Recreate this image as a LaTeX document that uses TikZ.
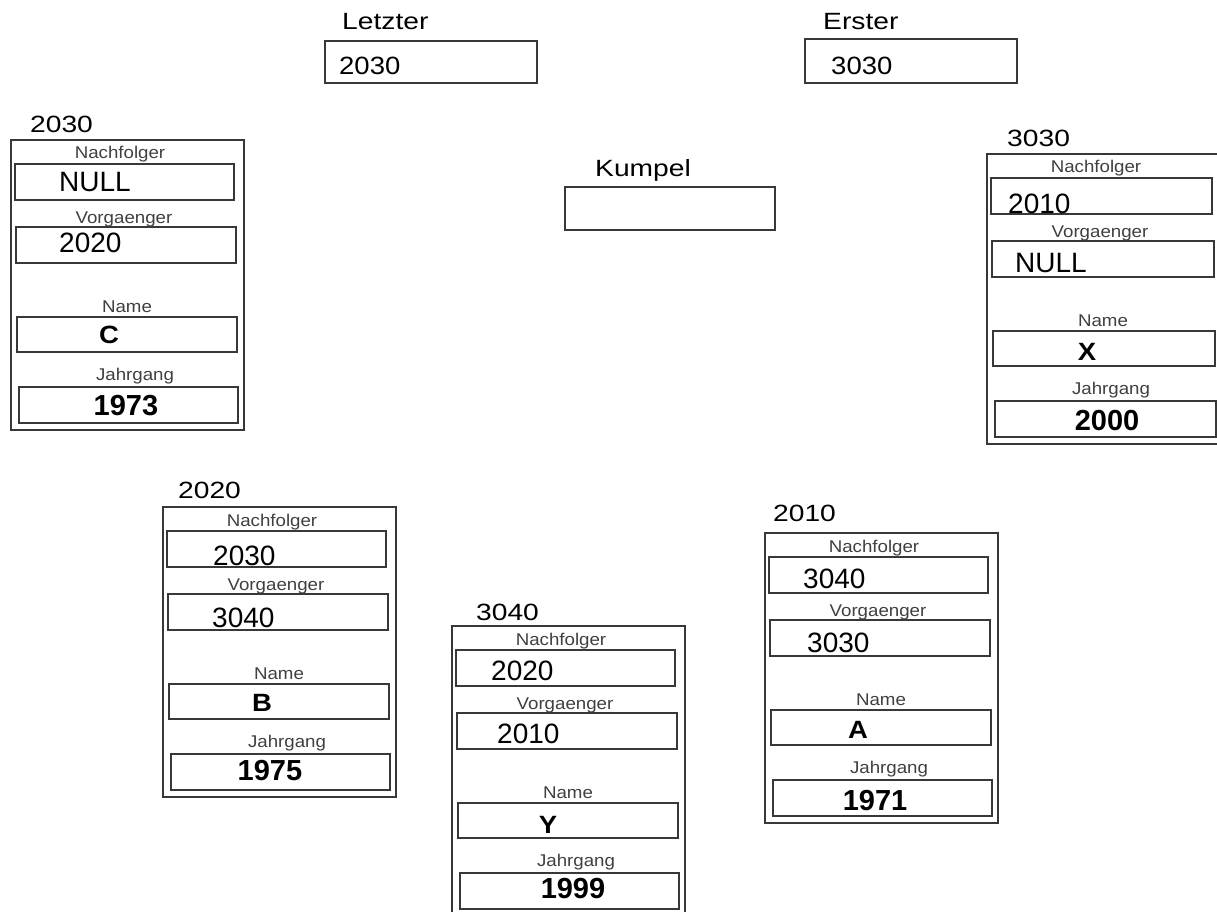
\documentclass[tikz,border=0pt]{standalone}
\usepackage{fontspec}
\setmainfont{Liberation Sans}
\newfontfamily\wideface{Liberation Sans}[FakeStretch=1.2]
\newfontfamily\midface{Liberation Sans}[FakeStretch=1.1]
\newfontfamily\strongface{Liberation Sans Bold}[FakeStretch=1.1]
\newfontfamily\yearface{Liberation Sans Bold}

\tikzset{
  linecol/.style={draw=black!78, line width=1.1pt},
  frame/.style={linecol, rectangle, anchor=north west, inner sep=0, outer sep=0},
  fieldbox/.style={linecol, rectangle, anchor=north west, inner sep=0, outer sep=0},
  title/.style={font=\wideface\fontsize{23.5}{23.5}\selectfont, anchor=base west, inner sep=0},
  caption/.style={font=\midface\fontsize{17}{17}\selectfont, text=black!75, anchor=base, inner sep=0},
  value/.style={font=\fontsize{28}{28}\selectfont, anchor=base west, inner sep=0},
  topvalue/.style={font=\midface\fontsize{25}{25}\selectfont, anchor=base west, inner sep=0},
  namevalue/.style={font=\strongface\fontsize{25}{25}\selectfont, anchor=base, inner sep=0},
  yearvalue/.style={font=\yearface\fontsize{29}{29}\selectfont, anchor=base, inner sep=0},
}

% One list element: outer frame, four field boxes and their captions.
% #1 id, #2 x, #3 y (top left), #4 width
\newcommand\recordframe[4]{%
  \node[frame, minimum width=#4pt, minimum height=290pt] (#1) at (#2,#3) {};
  \node[fieldbox, minimum width=#4pt-14pt, minimum height=36pt] (#1-next) at ({#2+4},{#3+24}) {};
  \node[fieldbox, minimum width=#4pt-13pt, minimum height=36pt] (#1-prev) at ({#2+5},{#3+87}) {};
  \node[fieldbox, minimum width=#4pt-13pt, minimum height=35pt] (#1-name) at ({#2+6},{#3+177}) {};
  \node[fieldbox, minimum width=#4pt-14pt, minimum height=36pt] (#1-year) at ({#2+8},{#3+247}) {};
  \node[caption] (#1-capnext) at ({#2+109},{#3+19}) {Nachfolger};
  \node[caption] (#1-capprev) at ({#2+113},{#3+83}) {Vorgaenger};
  \node[caption] (#1-capname) at ({#2+116},{#3+172}) {Name};
  \node[caption] (#1-capyear) at ({#2+124},{#3+240}) {Jahrgang};
}

\begin{document}
\begin{tikzpicture}[x=1pt, y=-1pt]
\clip (0,0) rectangle (1217,912);
\fill[white] (0,0) rectangle (1217,912);

% list pointers
\node[title] (t-last) at (342,30) {Letzter};
\node[fieldbox, minimum width=212pt, minimum height=42pt] (last) at (325,41) {};
\node[topvalue] (last-v) at (339,75) {2030};

\node[title] (t-first) at (823,30) {Erster};
\node[fieldbox, minimum width=212pt, minimum height=44pt] (first) at (805,39) {};
\node[topvalue] (first-v) at (831,75) {3030};

\node[title] (t-pal) at (595,176) {Kumpel};
\node[fieldbox, minimum width=210pt, minimum height=43pt] (pal) at (565,187) {};

% element 2030
\recordframe{r2030}{11}{140}{233}
\node[title] (r2030-t) at (30,133) {2030};
\node[value] (r2030-v1) at (59,192) {NULL};
\node[value] (r2030-v2) at (59,252) {2020};
\node[namevalue] (r2030-v3) at (109,343) {C};
\node[yearvalue] (r2030-v4) at (126,415) {1973};

% element 3030
\recordframe{r3030}{987}{154}{235}
\node[title] (r3030-t) at (1007,147) {3030};
\node[value] (r3030-v1) at (1008,213) {2010};
\node[value] (r3030-v2) at (1015,272) {NULL};
\node[namevalue] (r3030-v3) at (1087,360) {X};
\node[yearvalue] (r3030-v4) at (1107,430) {2000};

% element 2020
\recordframe{r2020}{163}{507}{233}
\node[title] (r2020-t) at (178,498) {2020};
\node[value] (r2020-v1) at (213,565) {2030};
\node[value] (r2020-v2) at (212,627) {3040};
\node[namevalue] (r2020-v3) at (262,711) {B};
\node[yearvalue] (r2020-v4) at (270,780) {1975};

% element 3040
\recordframe{r3040}{452}{626}{233}
\node[title] (r3040-t) at (476,620) {3040};
\node[value] (r3040-v1) at (491,680) {2020};
\node[value] (r3040-v2) at (497,743) {2010};
\node[namevalue] (r3040-v3) at (548,833) {Y};
\node[yearvalue] (r3040-v4) at (573,898) {1999};

% element 2010
\recordframe{r2010}{765}{533}{233}
\node[title] (r2010-t) at (773,521) {2010};
\node[value] (r2010-v1) at (803,588) {3040};
\node[value] (r2010-v2) at (807,652) {3030};
\node[namevalue] (r2010-v3) at (858,738) {A};
\node[yearvalue] (r2010-v4) at (875,810) {1971};
\end{tikzpicture}
\end{document}
